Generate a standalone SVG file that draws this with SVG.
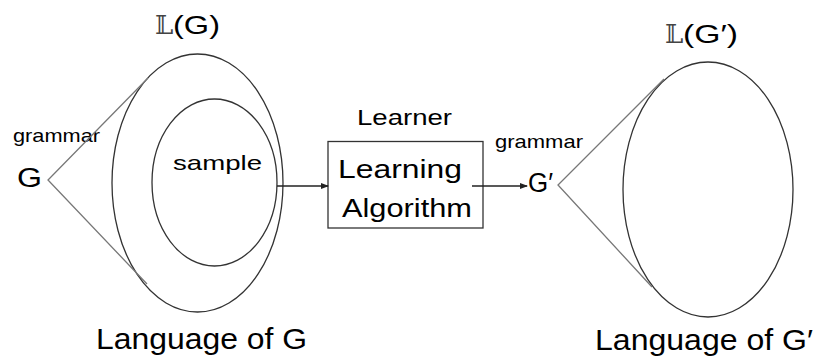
<svg xmlns="http://www.w3.org/2000/svg" width="813" height="358" viewBox="0 0 813 358">
<style>
.t{font-family:"Liberation Sans",Arial,sans-serif;fill:#000}
.ell{fill:none;stroke:#333;stroke-width:1.3}
.cone{fill:none;stroke:#777;stroke-width:1.3}
.con{fill:none;stroke:#222;stroke-width:1.3}
.bb{font-family:"DejaVu Serif","Liberation Serif",serif;fill:#444}
</style>
<defs>
<marker id="ah" markerWidth="8" markerHeight="8" refX="7" refY="4" orient="auto" markerUnits="userSpaceOnUse">
<path d="M0,1 L8,4 L0,7 Z" fill="#222"/>
</marker>
</defs>
<rect width="813" height="358" fill="#fff"/>
<g id="left-language">
<ellipse class="ell" cx="197.5" cy="183" rx="85.5" ry="129"/>
<text class="bb" x="155" y="34" font-size="26">𝕃</text>
<text class="t" x="173" y="34" font-size="26" textLength="47" lengthAdjust="spacingAndGlyphs">(G)</text>
<text class="t" x="96" y="349" font-size="29" textLength="211" lengthAdjust="spacingAndGlyphs">Language of G</text>
</g>
<g id="sample">
<ellipse class="ell" cx="214.5" cy="182.5" rx="62.5" ry="83.5"/>
<text class="t" x="173" y="170" font-size="21" textLength="89" lengthAdjust="spacingAndGlyphs">sample</text>
</g>
<g id="grammar-G">
<text class="t" x="13" y="142" font-size="19" textLength="87" lengthAdjust="spacingAndGlyphs">grammar</text>
<text class="t" x="17" y="187" font-size="27" textLength="25" lengthAdjust="spacingAndGlyphs">G</text>
</g>
<g id="learner">
<rect x="328" y="141.5" width="155" height="86.5" fill="none" stroke="#333" stroke-width="1.3"/>
<text class="t" x="357" y="125" font-size="22" textLength="95" lengthAdjust="spacingAndGlyphs">Learner</text>
<text class="t" x="338" y="178" font-size="26" textLength="124" lengthAdjust="spacingAndGlyphs">Learning</text>
<text class="t" x="342" y="217" font-size="26" textLength="130" lengthAdjust="spacingAndGlyphs">Algorithm</text>
</g>
<g id="grammar-G-prime">
<text class="t" x="495" y="148" font-size="19" textLength="88" lengthAdjust="spacingAndGlyphs">grammar</text>
<text class="t" x="528" y="192" font-size="27" textLength="25" lengthAdjust="spacingAndGlyphs">G′</text>
</g>
<g id="right-language">
<ellipse class="ell" cx="708" cy="189.5" rx="85" ry="127.5"/>
<text class="bb" x="665" y="43" font-size="26">𝕃</text>
<text class="t" x="683" y="43" font-size="26" textLength="55" lengthAdjust="spacingAndGlyphs">(G′)</text>
<text class="t" x="595" y="350" font-size="29" textLength="218" lengthAdjust="spacingAndGlyphs">Language of G′</text>
</g>
<g id="connectors">
<polyline class="cone" points="148,78 48,180 147,284"/>
<polyline class="cone" points="664,79 558,185 652,287"/>
<line class="con" x1="277" y1="186" x2="328" y2="186" marker-end="url(#ah)"/>
<line class="con" x1="472" y1="186" x2="527" y2="186" marker-end="url(#ah)"/>
</g>
</svg>
